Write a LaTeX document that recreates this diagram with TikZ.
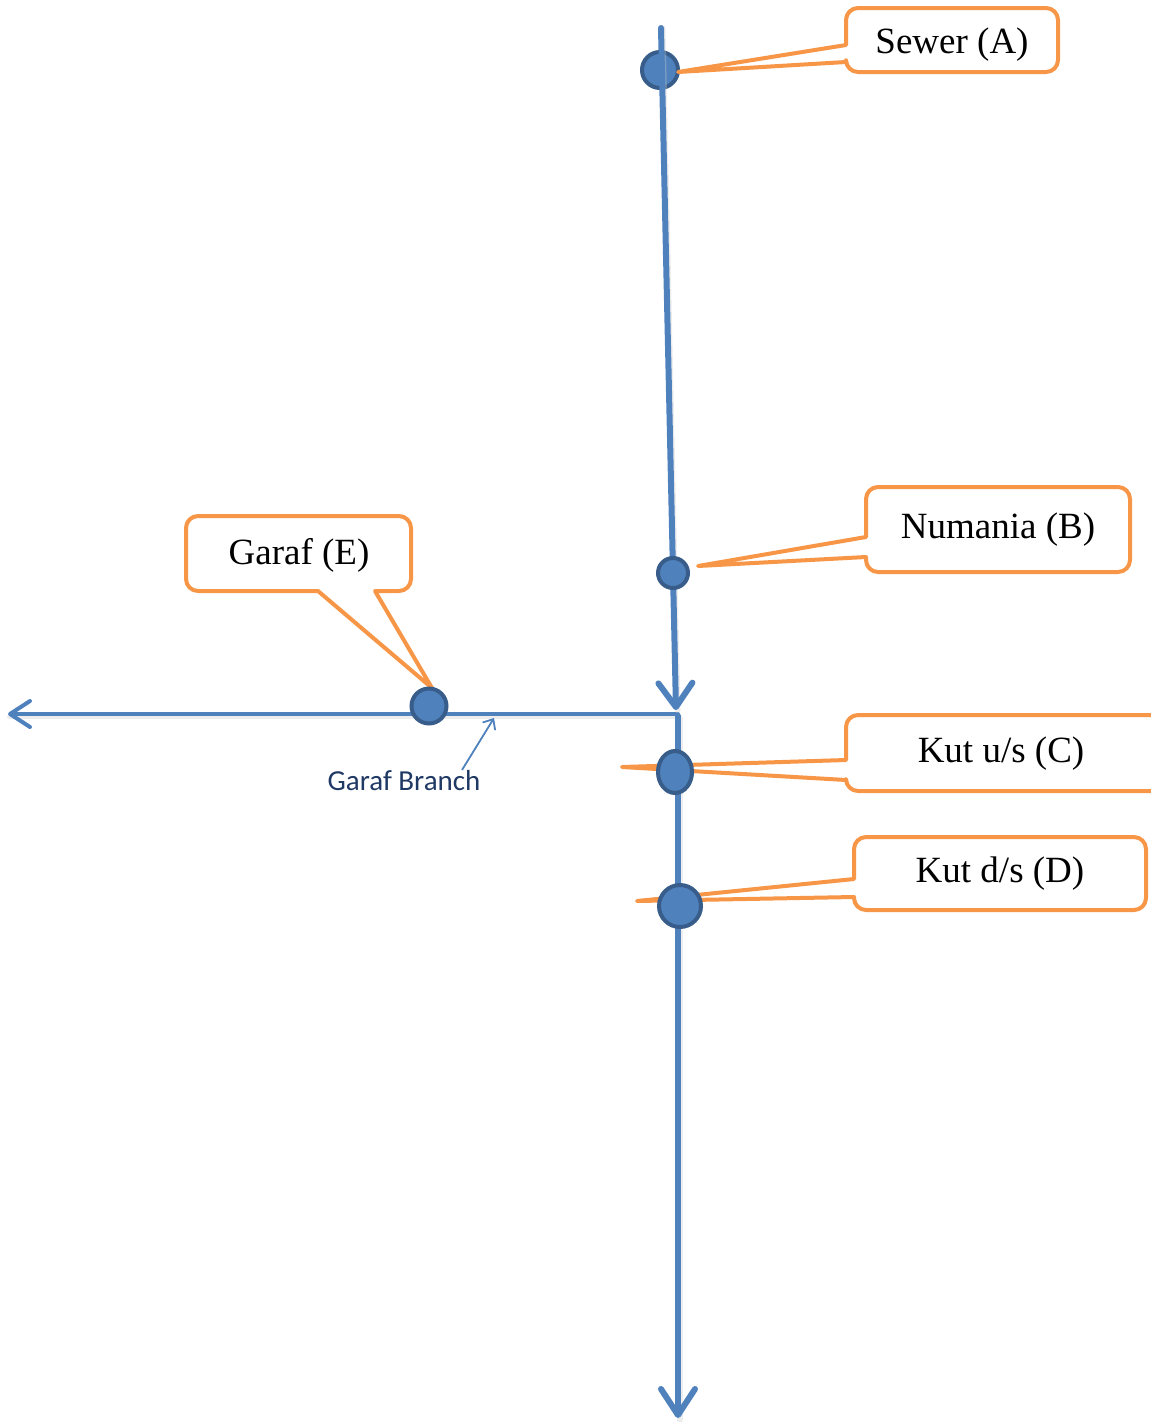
\documentclass[tikz,border=0pt]{standalone}
\usepackage{fontspec}
\setmainfont{Liberation Serif}
\newfontfamily\labelsans{Carlito}
\usetikzlibrary{arrows.meta,shapes.geometric}
\definecolor{pipeblue}{HTML}{4F81BD}
\definecolor{rimblue}{HTML}{385D8A}
\definecolor{calloutorange}{HTML}{F79646}
\definecolor{labelnavy}{HTML}{1F3864}
\begin{document}
\begin{tikzpicture}[x=1pt,y=-1pt,
  pipe/.style={draw=pipeblue,line width=#1,line cap=round,line join=round},
  pipe/.default=6pt,
  shade line/.style={draw=black!20,line width=#1,line cap=round,opacity=0.35},
  shade line/.default=6pt,
  station/.style={circle,draw=rimblue,fill=pipeblue,line width=4pt,inner sep=0pt},
  callout/.style={draw=calloutorange,fill=white,line width=4pt,line join=round},
  tag/.style={font=\fontsize{37}{44}\selectfont,text=black,inner sep=0pt},
  bigbarb/.style={-{Straight Barb[length=#1,width=34pt,line cap=round,line join=round]}},
]
\useasboundingbox (0,0) rectangle (1151,1422);

% reference points of the river network
\coordinate (top) at (661,28);
\coordinate (junc) at (676,710);
\coordinate (jh) at (678,714);
\coordinate (west) at (8,714);
\coordinate (jv) at (678,716);
\coordinate (south) at (678,1418);

% soft shadows under the channels
\draw[shade line=4pt] ([shift={(1,2.5)}]jh) -- ([shift={(1,2.5)}]west);
\draw[shade line] ([shift={(1.5,2)}]jv) -- ([shift={(1.5,2)}]south);

% Garaf branch (westward) and main channel below the junction
\draw[pipe=4pt,-{Straight Barb[length=20pt,width=26pt,line cap=round,line join=round]}] (jh) -- (west);
\draw[pipe,bigbarb=26pt] (jv) -- (south);

% callouts whose pointers run under the stations
\draw[callout] (846,760) [rounded corners=12pt] -- (846,715) -- (1170,715) -- (1170,791) -- (846,791) [sharp corners] -- (846,780) -- (622,767) -- cycle;
\node[tag] (lblC) at (1001,754) {Kut u/s (C)};
\draw[callout] (854,879) [rounded corners=12pt] -- (854,837) -- (1146,837) -- (1146,910) -- (854,910) [sharp corners] -- (854,897) -- (637,901) -- cycle;
\node[tag] (lblD) at (1000,874) {Kut d/s (D)};

% station A sits under the upper channel
\node[station,minimum size=36pt] (A) at (660,70) {};
\draw[shade line] ([shift={(1.5,0)}]top) -- ([shift={(1.5,0)}]junc);
\draw[pipe,bigbarb=24pt] (top) -- (junc);

% Sewer (A) callout
\draw[callout] (846,45) [rounded corners=12pt] -- (846,8) -- (1058,8) -- (1058,72) -- (846,72) [sharp corners] -- (846,62) -- (678,72) -- cycle;
\node[tag] (lblA) at (952,45) {Sewer (A)};

% remaining stations
\node[station,minimum size=30pt] (B) at (673,573) {};
\node[station,ellipse,minimum width=34pt,minimum height=42pt] (C) at (675,772) {};
\node[station,minimum size=42pt] (D) at (680,906) {};

% Numania (B) callout
\draw[callout] (866,537) [rounded corners=12pt] -- (866,487) -- (1130,487) -- (1130,572) -- (866,572) [sharp corners] -- (866,557) -- (698,566) -- cycle;
\node[tag] (lblB) at (998,530) {Numania (B)};

% Garaf (E) callout and station
\draw[callout] (375,591) [rounded corners=12pt] -- (411,591) -- (411,516) -- (186,516) -- (186,591) [sharp corners] -- (318,591) -- (432,688) -- cycle;
\node[tag] (lblE) at (299,555) {Garaf (E)};
\node[station,minimum size=35pt] (E) at (429,706) {};

% branch name with its pointer
\node[font=\labelsans\fontsize{29}{34}\selectfont,text=labelnavy,inner sep=0pt] (branch) at (404,781) {Garaf Branch};
\coordinate (branchtip) at (494,718);
\draw[draw=pipeblue,line width=1.8pt,-{Straight Barb[length=8pt,width=14pt,line cap=round]}] (462,770) -- (branchtip);
\end{tikzpicture}
\end{document}
